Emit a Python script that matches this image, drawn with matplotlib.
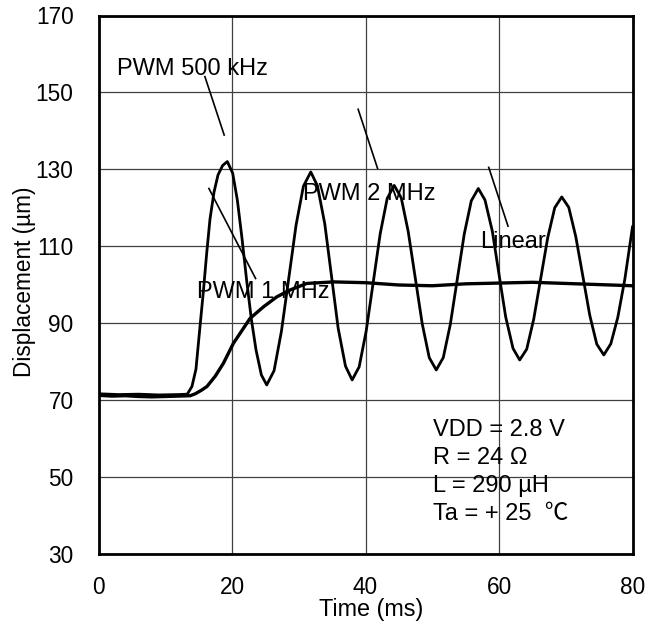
import matplotlib
matplotlib.use("Agg")
from matplotlib import pyplot as plt

plt.rcParams['font.family'] = ['Liberation Sans', 'Noto Sans CJK JP', 'DejaVu Sans']

# PWM response (the three PWM traces overlap into one oscillating trace)
pwm_time = [0, 3, 6, 9, 12, 13.3, 14.0, 14.6, 15.2, 15.7, 16.2, 16.7, 17.3, 17.9, 18.6,
            19.3, 20.1, 20.8, 21.5, 22.2, 22.9, 23.6, 24.4, 25.2, 26.3, 27.4, 28.5, 29.6,
            30.7, 31.8, 32.8, 33.9, 34.9, 35.9, 37.0, 38.0, 39.05, 40.1, 41.15, 42.2, 43.25,
            44.3, 45.35, 46.4, 47.45, 48.5, 49.55, 50.6, 51.65, 52.7, 53.75, 54.8, 55.85,
            56.9, 57.9, 59.0, 60.0, 61.0, 62.1, 63.1, 64.15, 65.2, 66.25, 67.3, 68.35, 69.4,
            70.45, 71.5, 72.55, 73.6, 74.65, 75.7, 76.75, 77.8, 78.85, 80.0]
pwm_disp = [71.6, 71.4, 71.5, 71.3, 71.4, 71.5, 73.5, 78.0, 89.0, 98.0, 108.0, 117.0, 124.0,
            128.5, 131.0, 132.0, 129.0, 122.0, 112.0, 101.0, 91.0, 83.0, 76.5, 73.9, 77.6,
            87.8, 101.6, 115.5, 125.6, 129.3, 125.7, 115.8, 102.3, 88.7, 78.8, 75.2, 78.6,
            87.9, 100.5, 113.2, 122.4, 125.8, 122.6, 113.8, 101.8, 89.8, 81.0, 77.8, 81.0,
            89.6, 101.4, 113.2, 121.8, 125.0, 122.0, 113.9, 102.7, 91.6, 83.4, 80.4, 83.2,
            91.0, 101.6, 112.2, 120.0, 122.8, 120.1, 112.5, 102.3, 92.0, 84.5, 81.7, 84.6,
            91.5, 101.4, 115.0]

# linear drive response
lin_time = [0, 2, 4, 6, 8, 10, 12, 13.75, 14.5, 15.4, 16.25, 17.5, 18.7, 20.2, 21.7, 22.7,
            24.7, 26.7, 28.7, 31.2, 35.2, 40, 45, 50, 55, 60, 65, 70, 75, 80]
lin_disp = [71.2, 71.0, 71.1, 70.9, 70.8, 70.9, 71.0, 71.1, 71.6, 72.5, 73.5, 76.2, 79.5,
            84.7, 88.6, 91.2, 94.2, 96.8, 98.6, 100.3, 100.7, 100.5, 99.9, 99.7, 100.2,
            100.4, 100.6, 100.3, 100.0, 99.7]

xticks = [0, 20, 40, 60, 80]
yticks = [30, 50, 70, 90, 110, 130, 150, 170]

# curve labels: text, text position (left, baseline), leader line start / end
labels = ["PWM 500 kHz", "PWM 1 MHz", "PWM 2 MHz", "Linear"]
label_pos = [(2.8, 154.5), (14.7, 96.4), (30.6, 122.0), (57.15, 109.4)]
leaders = [((15.94, 154.1), (18.83, 138.9)),
           ((16.54, 125.0), (23.53, 101.6)),
           ((38.9, 145.6), (41.8, 130.25)),
           ((58.46, 130.5), (61.35, 115.2))]

conditions = ["VDD = 2.8 V", "R = 24 Ω", "L = 290 µH", "Ta = + 25  \u2103"]

fs = 16.3      # tick labels / y label
fs_note = 17.0  # labels inside the plot

fig = plt.figure(figsize=(6.57, 6.30), dpi=100)
ax = fig.add_axes([98.5 / 657, (630 - 553.7) / 630, 534 / 657, 538.2 / 630])

ax.plot(lin_time, lin_disp, color="black", linewidth=2.4, zorder=3)
ax.plot(pwm_time, pwm_disp, color="black", linewidth=2.0, zorder=3)

for (p0, p1) in leaders:
    ax.plot([p0[0], p1[0]], [p0[1], p1[1]], color="black", linewidth=1.2, zorder=4)
for txt, (x, y) in zip(labels, label_pos):
    ax.text(x, y, txt, fontsize=fs_note, ha="left", va="baseline", zorder=2)

for i, line in enumerate(conditions):
    ax.text(50.07, 60.7 - i * 7.3, line, fontsize=fs_note, ha="left", va="baseline", zorder=2)

ax.set_xlim(0, 80)
ax.set_ylim(30, 170)
ax.set_xticks(xticks)
ax.set_yticks(yticks)
ax.tick_params(axis="both", length=0, labelsize=fs)
ax.tick_params(axis="y", pad=18)
ax.tick_params(axis="x", pad=16)
ax.grid(True, color="#404040", linewidth=0.9, zorder=1)
ax.set_axisbelow(True)
for s in ax.spines.values():
    s.set_linewidth(2.0)
    s.set_color("black")

ax.set_xlabel("Time (ms)", fontsize=16.8)
ax.xaxis.set_label_coords(0.51, -0.083)
ax.set_ylabel("Displacement (µm)", fontsize=fs)
ax.yaxis.set_label_coords(-0.117, 0.505)

plt.savefig("out.png", dpi=100)
